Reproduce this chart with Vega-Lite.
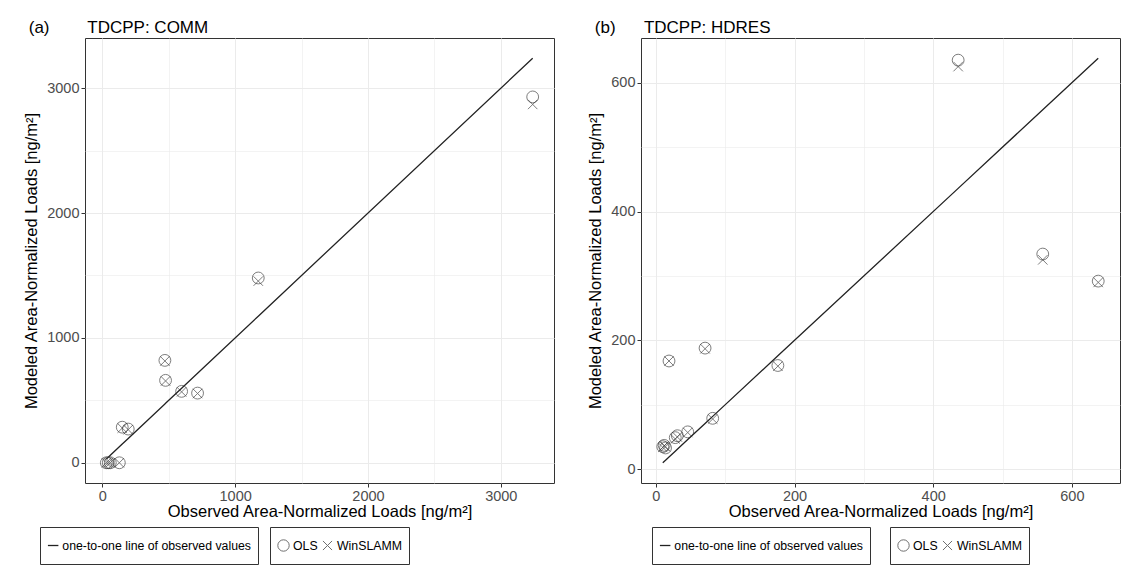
{
  "$schema": "https://vega.github.io/schema/vega-lite/v6.json",
  "padding": {"left": 23, "top": 18, "right": 3, "bottom": 2},
  "background": "white",
  "spacing": 87,
  "bounds": "flush",
  "datasets": {
    "comm": [
      {"obs": 30, "model": "OLS", "modeled": 0},
      {"obs": 30, "model": "WinSLAMM", "modeled": 0},
      {"obs": 45, "model": "OLS", "modeled": 0},
      {"obs": 45, "model": "WinSLAMM", "modeled": 0},
      {"obs": 60, "model": "OLS", "modeled": 0},
      {"obs": 60, "model": "WinSLAMM", "modeled": 0},
      {"obs": 128, "model": "OLS", "modeled": 0},
      {"obs": 128, "model": "WinSLAMM", "modeled": 0},
      {"obs": 150, "model": "OLS", "modeled": 285},
      {"obs": 150, "model": "WinSLAMM", "modeled": 278},
      {"obs": 195, "model": "OLS", "modeled": 270},
      {"obs": 195, "model": "WinSLAMM", "modeled": 265},
      {"obs": 471, "model": "OLS", "modeled": 820},
      {"obs": 471, "model": "WinSLAMM", "modeled": 815},
      {"obs": 476, "model": "OLS", "modeled": 660},
      {"obs": 476, "model": "WinSLAMM", "modeled": 655},
      {"obs": 597, "model": "OLS", "modeled": 572},
      {"obs": 597, "model": "WinSLAMM", "modeled": 568},
      {"obs": 717, "model": "OLS", "modeled": 558},
      {"obs": 717, "model": "WinSLAMM", "modeled": 555},
      {"obs": 1174, "model": "OLS", "modeled": 1480},
      {"obs": 1174, "model": "WinSLAMM", "modeled": 1455},
      {"obs": 3240, "model": "OLS", "modeled": 2930},
      {"obs": 3240, "model": "WinSLAMM", "modeled": 2870}
    ],
    "hdres": [
      {"obs": 10, "model": "OLS", "modeled": 35},
      {"obs": 10, "model": "WinSLAMM", "modeled": 34},
      {"obs": 12, "model": "OLS", "modeled": 37},
      {"obs": 12, "model": "WinSLAMM", "modeled": 36},
      {"obs": 14, "model": "OLS", "modeled": 33},
      {"obs": 14, "model": "WinSLAMM", "modeled": 35},
      {"obs": 19, "model": "OLS", "modeled": 168},
      {"obs": 19, "model": "WinSLAMM", "modeled": 168},
      {"obs": 28, "model": "OLS", "modeled": 49},
      {"obs": 28, "model": "WinSLAMM", "modeled": 47},
      {"obs": 31, "model": "OLS", "modeled": 52},
      {"obs": 31, "model": "WinSLAMM", "modeled": 50},
      {"obs": 46, "model": "OLS", "modeled": 58},
      {"obs": 46, "model": "WinSLAMM", "modeled": 57},
      {"obs": 71, "model": "OLS", "modeled": 188},
      {"obs": 71, "model": "WinSLAMM", "modeled": 187},
      {"obs": 82, "model": "OLS", "modeled": 79},
      {"obs": 82, "model": "WinSLAMM", "modeled": 78},
      {"obs": 176, "model": "OLS", "modeled": 161},
      {"obs": 176, "model": "WinSLAMM", "modeled": 160},
      {"obs": 436, "model": "OLS", "modeled": 635},
      {"obs": 436, "model": "WinSLAMM", "modeled": 625},
      {"obs": 558, "model": "OLS", "modeled": 334},
      {"obs": 558, "model": "WinSLAMM", "modeled": 325},
      {"obs": 638, "model": "OLS", "modeled": 292},
      {"obs": 638, "model": "WinSLAMM", "modeled": 290}
    ]
  },
  "config": {
    "font": "Liberation Sans",
    "view": {"stroke": "#333333", "strokeWidth": 1},
    "axis": {
      "domain": false,
      "labelFont": "Liberation Sans",
      "labelFontSize": 14.5,
      "labelColor": "#4d4d4d",
      "tickColor": "#333333",
      "tickSize": 4,
      "labelPadding": 2,
      "gridColor": "#ebebeb",
      "titleFont": "Liberation Sans",
      "titleFontSize": 16.5,
      "titleFontWeight": "normal",
      "titleColor": "#000000"
    },
    "legend": {
      "labelFont": "Liberation Sans",
      "labelFontSize": 12.3,
      "labelColor": "#000000",
      "labelLimit": 0,
      "strokeColor": "#333333",
      "padding": 7,
      "clipHeight": 23,
      "columnPadding": 3,
      "labelOffset": 3,
      "symbolStrokeWidth": 1
    },
    "title": {
      "font": "Liberation Sans",
      "fontSize": 17,
      "fontWeight": "normal",
      "color": "#000000",
      "anchor": "start",
      "frame": "bounds",
      "offset": 4
    }
  },
  "resolve": {
    "scale": {"x": "independent", "y": "independent", "color": "independent", "shape": "independent"},
    "legend": {"color": "independent", "shape": "independent"}
  },
  "hconcat": [
    {
      "title": {"text": "(a)\u00a0\u00a0\u00a0\u00a0\u00a0\u00a0\u00a0\u00a0TDCPP: COMM", "dx": 5, "dy": 3},
      "width": 469,
      "height": 445,
      "data": {"name": "comm"},
      "encoding": {
        "x": {
          "field": "obs", "type": "quantitative",
          "scale": {"domain": [-130.5, 3400.5], "nice": false, "zero": false},
          "axis": {
            "title": "Observed Area-Normalized Loads [ng/m²]",
            "values": [0, 500, 1000, 1500, 2000, 2500, 3000],
            "format": "d",
            "labelExpr": "datum.value % 1000 === 0 ? datum.label : ''",
            "tickOpacity": {"condition": {"test": "datum.value % 1000 === 0", "value": 1}, "value": 0},
            "gridWidth": {"condition": {"test": "datum.value % 1000 === 0", "value": 1}, "value": 0.6},
            "titlePadding": 1
          }
        }
      },
      "layer": [
        {
          "mark": {"type": "line", "strokeWidth": 1.3, "clip": true},
          "encoding": {
            "y": {
              "field": "obs", "type": "quantitative",
              "scale": {"domain": [-162, 3402], "nice": false, "zero": false},
              "axis": {
                "title": "Modeled Area-Normalized Loads [ng/m²]",
                "values": [0, 500, 1000, 1500, 2000, 2500, 3000],
                "format": "d",
                "labelExpr": "datum.value % 1000 === 0 ? datum.label : ''",
                "tickOpacity": {"condition": {"test": "datum.value % 1000 === 0", "value": 1}, "value": 0},
                "gridWidth": {"condition": {"test": "datum.value % 1000 === 0", "value": 1}, "value": 0.6},
                "titlePadding": 7
              }
            },
            "color": {
              "datum": "one-to-one line of observed values",
              "scale": {"range": ["#222222"]},
              "legend": {"title": null, "orient": "none", "legendX": -45, "legendY": 489, "symbolType": "stroke", "symbolSize": 110, "symbolStrokeWidth": 1.3}
            }
          }
        },
        {
          "mark": {"type": "point", "filled": false, "color": "#333333", "strokeWidth": 0.9, "size": 140},
          "encoding": {
            "y": {"field": "modeled", "type": "quantitative"},
            "shape": {
              "field": "model", "type": "nominal",
              "scale": {"domain": ["OLS", "WinSLAMM"], "range": ["circle", "M-0.8,-0.8L0.8,0.8M-0.8,0.8L0.8,-0.8"]},
              "legend": {"title": null, "orient": "none", "direction": "horizontal", "legendX": 185, "legendY": 489, "symbolSize": 130}
            }
          }
        }
      ]
    },
    {
      "title": {"text": "(b)\u00a0\u00a0\u00a0\u00a0\u00a0\u00a0TDCPP: HDRES", "dx": 7, "dy": 3},
      "width": 479,
      "height": 445,
      "data": {"name": "hdres"},
      "encoding": {
        "x": {
          "field": "obs", "type": "quantitative",
          "scale": {"domain": [-21.4, 669.4], "nice": false, "zero": false},
          "axis": {
            "title": "Observed Area-Normalized Loads [ng/m²]",
            "values": [0, 100, 200, 300, 400, 500, 600],
            "format": "d",
            "labelExpr": "datum.value % 200 === 0 ? datum.label : ''",
            "tickOpacity": {"condition": {"test": "datum.value % 200 === 0", "value": 1}, "value": 0},
            "gridWidth": {"condition": {"test": "datum.value % 200 === 0", "value": 1}, "value": 0.6},
            "titlePadding": 1
          }
        }
      },
      "layer": [
        {
          "mark": {"type": "line", "strokeWidth": 1.3, "clip": true},
          "encoding": {
            "y": {
              "field": "obs", "type": "quantitative",
              "scale": {"domain": [-21.4, 669.4], "nice": false, "zero": false},
              "axis": {
                "title": "Modeled Area-Normalized Loads [ng/m²]",
                "values": [0, 100, 200, 300, 400, 500, 600],
                "format": "d",
                "labelExpr": "datum.value % 200 === 0 ? datum.label : ''",
                "tickOpacity": {"condition": {"test": "datum.value % 200 === 0", "value": 1}, "value": 0},
                "gridWidth": {"condition": {"test": "datum.value % 200 === 0", "value": 1}, "value": 0.6},
                "titlePadding": 7
              }
            },
            "color": {
              "datum": "one-to-one line of observed values",
              "scale": {"range": ["#222222"]},
              "legend": {"title": null, "orient": "none", "legendX": 11, "legendY": 489, "symbolType": "stroke", "symbolSize": 110, "symbolStrokeWidth": 1.3}
            }
          }
        },
        {
          "mark": {"type": "point", "filled": false, "color": "#333333", "strokeWidth": 0.9, "size": 140},
          "encoding": {
            "y": {"field": "modeled", "type": "quantitative"},
            "shape": {
              "field": "model", "type": "nominal",
              "scale": {"domain": ["OLS", "WinSLAMM"], "range": ["circle", "M-0.8,-0.8L0.8,0.8M-0.8,0.8L0.8,-0.8"]},
              "legend": {"title": null, "orient": "none", "direction": "horizontal", "legendX": 249, "legendY": 489, "symbolSize": 130}
            }
          }
        }
      ]
    }
  ]
}
